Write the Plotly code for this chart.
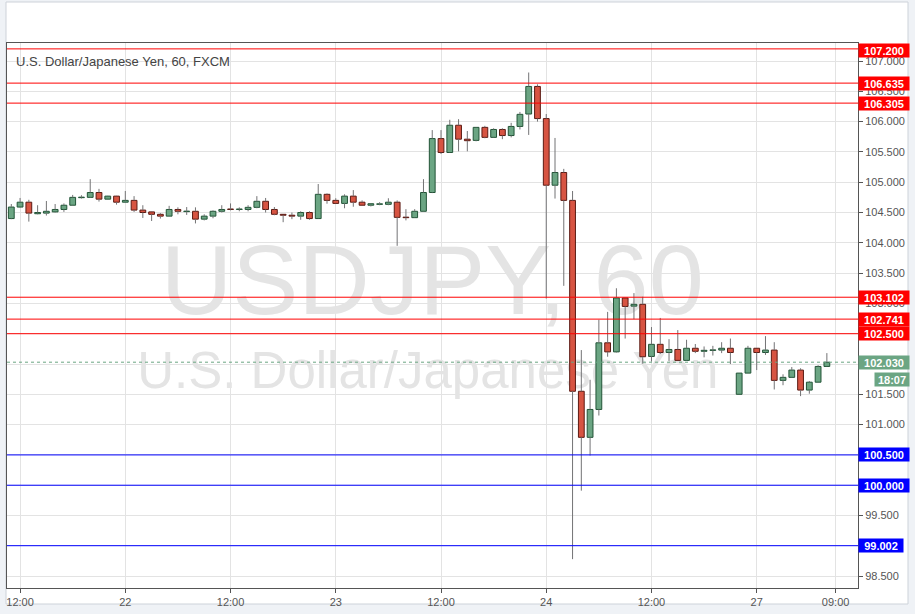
import plotly.graph_objects as go

# ---- data (hourly candles) ----
opens = [104.40, 104.59, 104.67, 104.48, 104.49, 104.51, 104.55, 104.62, 104.745, 104.75,
         104.83, 104.72, 104.77, 104.67, 104.70, 104.54, 104.51, 104.47, 104.44, 104.55,
         104.515, 104.52, 104.39, 104.44, 104.52, 104.555, 104.55, 104.55, 104.585, 104.685,
         104.55, 104.47, 104.455, 104.44, 104.50, 104.40, 104.80, 104.70, 104.65, 104.77,
         104.67, 104.62, 104.635, 104.635, 104.67, 104.42, 104.415, 104.52, 104.83, 105.72,
         105.49, 105.94, 105.71, 105.69, 105.905, 105.74, 105.87, 105.77, 105.92, 106.125,
         106.58, 106.05, 104.95, 105.16, 104.70, 101.55, 100.79, 101.25, 102.35, 102.20,
         103.09, 102.955, 102.985, 102.125, 102.325, 102.19, 102.24, 102.06, 102.26, 102.21,
         102.225, 102.23, 102.26, 101.50, 101.85, 102.26, 102.19, 102.23, 101.73, 101.78,
         101.90, 101.57, 101.70, 101.96]
highs = [104.64, 104.74, 104.71, 104.62, 104.69, 104.64, 104.65, 104.79, 104.785, 105.05,
         104.89, 104.775, 104.775, 104.855, 104.77, 104.62, 104.52, 104.49, 104.61, 104.585,
         104.59, 104.585, 104.47, 104.535, 104.62, 104.65, 104.585, 104.62, 104.77, 104.74,
         104.59, 104.47, 104.50, 104.52, 104.52, 104.97, 104.815, 104.735, 104.80, 104.87,
         104.70, 104.65, 104.67, 104.735, 104.70, 104.555, 104.555, 105.05, 105.86, 105.86,
         106.03, 106.04, 105.845, 105.91, 105.93, 105.89, 105.89, 105.98, 106.16, 106.81,
         106.615, 106.125, 105.73, 105.22, 104.855, 102.23, 101.74, 102.73, 102.86, 103.25,
         103.09, 103.17, 103.11, 102.61, 102.76, 102.41, 102.56, 102.40, 102.33, 102.29,
         102.30, 102.36, 102.42, 101.85, 102.30, 102.26, 102.46, 102.36, 101.83, 101.95,
         101.93, 101.72, 101.98, 102.18]
lows = [104.39, 104.58, 104.35, 104.47, 104.45, 104.50, 104.51, 104.61, 104.73, 104.74,
        104.68, 104.715, 104.63, 104.665, 104.51, 104.41, 104.36, 104.40, 104.435, 104.47,
        104.46, 104.32, 104.37, 104.405, 104.50, 104.535, 104.52, 104.52, 104.57, 104.50,
        104.455, 104.34, 104.39, 104.38, 104.38, 104.395, 104.645, 104.645, 104.57, 104.595,
        104.62, 104.60, 104.62, 104.62, 103.95, 104.37, 104.41, 104.515, 104.82, 105.465,
        105.485, 105.51, 105.51, 105.675, 105.725, 105.735, 105.71, 105.74, 105.87, 105.78,
        106.00, 103.08, 104.73, 103.29, 98.78, 99.91, 100.49, 101.15, 102.12, 102.19,
        102.42, 102.74, 102.005, 102.04, 102.165, 102.05, 102.06, 102.055, 102.18, 102.11,
        102.14, 102.18, 102.00, 101.50, 101.85, 101.90, 102.15, 101.58, 101.65, 101.775,
        101.47, 101.51, 101.695, 101.955]
closes = [104.59, 104.67, 104.49, 104.50, 104.52, 104.55, 104.62, 104.75, 104.75, 104.83,
          104.72, 104.77, 104.67, 104.70, 104.54, 104.50, 104.47, 104.44, 104.55, 104.52,
          104.52, 104.39, 104.44, 104.52, 104.55, 104.55, 104.555, 104.585, 104.685, 104.55,
          104.47, 104.455, 104.44, 104.50, 104.40, 104.80, 104.70, 104.65, 104.77, 104.67,
          104.62, 104.645, 104.64, 104.67, 104.42, 104.415, 104.52, 104.83, 105.72, 105.49,
          105.94, 105.71, 105.685, 105.905, 105.74, 105.87, 105.77, 105.92, 106.12, 106.58,
          106.05, 104.95, 105.16, 104.70, 101.55, 100.79, 101.25, 102.35, 102.20, 103.09,
          102.95, 102.985, 102.12, 102.325, 102.19, 102.24, 102.06, 102.26, 102.21, 102.226,
          102.23, 102.26, 102.19, 101.85, 102.26, 102.19, 102.23, 101.73, 101.78, 101.90,
          101.57, 101.70, 101.96, 102.03]

tick_idx = [1, 13, 25, 37, 49, 61, 73, 85, 94]
tick_txt = ["12:00", "22", "12:00", "23", "12:00", "24", "12:00", "27", "09:00"]

red_levels = [107.200, 106.635, 106.305, 103.102, 102.741, 102.500]
blue_levels = [100.500, 100.000, 99.002]
last_price = 102.030
countdown = "18:07"

title_text = "U.S. Dollar/Japanese Yen, 60, FXCM"
wm_big = "USDJPY, 60"
wm_small = "U.S. Dollar/Japanese Yen"

# ---- styling ----
W, H = 915, 614
ML, MR, MT, MB = 7, 57, 43, 26
PW, PH = W - ML - MR, H - MT - MB
XR = [-0.49, 96.55]
YR = [98.304, 107.297]

def px(x):
    return (x - ML) / PW

def py(y):
    return (H - MB - y) / PH

UP_FILL, UP_LINE = "#6ba583", "#225437"
DN_FILL, DN_LINE = "#d75442", "#5b1a13"
WICK = "#737375"
FONT = "Liberation Sans"
TXT = "#555555"
GRID = "#e3e3e3"

n = len(opens)
idx = list(range(n))

# wicks (split above/below the body so they never cross it)
wx, wy = [], []
for i in idx:
    top = max(opens[i], closes[i])
    bot = min(opens[i], closes[i])
    if highs[i] > top:
        wx += [i, i, None]
        wy += [top, highs[i], None]
    if lows[i] < bot:
        wx += [i, i, None]
        wy += [lows[i], bot, None]

base = [min(o, c) for o, c in zip(opens, closes)]
size = [max(abs(c - o), 0.008) for o, c in zip(opens, closes)]
up = [c >= o for o, c in zip(opens, closes)]
fill = [UP_FILL if u else DN_FILL for u in up]
edge = [UP_LINE if u else DN_LINE for u in up]

fig = go.Figure()

# watermark on the base axes (drawn beneath the candles on the overlay axes)
fig.add_trace(go.Scatter(x=[48.0], y=[103.24], mode="text", text=[wm_big],
                         textposition="middle center",
                         textfont=dict(family=FONT, size=99, color="#e4e4e4"),
                         hoverinfo="skip", showlegend=False))
fig.add_trace(go.Scatter(x=[47.5], y=[101.82], mode="text", text=[wm_small],
                         textposition="middle center",
                         textfont=dict(family=FONT, size=51, color="#e4e4e4"),
                         hoverinfo="skip", showlegend=False))

fig.add_trace(go.Scatter(x=wx, y=wy, mode="lines", line=dict(color=WICK, width=1),
                         xaxis="x2", yaxis="y2", hoverinfo="skip", showlegend=False))
fig.add_trace(go.Bar(x=idx, y=size, base=base, width=0.66,
                     marker=dict(color=fill, line=dict(color=edge, width=1)),
                     xaxis="x2", yaxis="y2", showlegend=False))

shapes = []
# page background panel
shapes.append(dict(type="rect", xref="paper", yref="paper", layer="below",
                   x0=px(6), x1=px(908), y0=py(604), y1=py(2),
                   fillcolor="white", line=dict(color="#cdd2d9", width=1)))
for v in red_levels:
    shapes.append(dict(type="line", xref="paper", yref="y", x0=0, x1=1, y0=v, y1=v,
                       line=dict(color="#ff0000", width=1), layer="above"))
for v in blue_levels:
    shapes.append(dict(type="line", xref="paper", yref="y", x0=0, x1=1, y0=v, y1=v,
                       line=dict(color="#0000ff", width=1), layer="above"))
shapes.append(dict(type="line", xref="paper", yref="y", x0=0, x1=1,
                   y0=last_price, y1=last_price,
                   line=dict(color=UP_FILL, width=1, dash="dot"), layer="above"))

annotations = [dict(text=title_text, xref="paper", yref="paper", x=px(14), y=py(61),
                    xanchor="left", yanchor="middle", showarrow=False,
                    font=dict(family=FONT, size=13, color="#444444"))]

def price_box(v, color, width=48, yshift=0):
    return dict(text=f"{v:.3f}", xref="paper", yref="y", x=1, y=v, xanchor="left",
                yanchor="middle", showarrow=False, bgcolor=color, width=width,
                height=11, borderpad=1, align="center", yshift=yshift,
                font=dict(family=FONT, size=11, color="white", weight="bold"))

for v in red_levels:
    annotations.append(price_box(v, "#ff0000", yshift=-2 if v == max(red_levels) else 0))
for v in blue_levels:
    annotations.append(price_box(v, "#0000ff", width=48 if v != min(blue_levels) else 42))
annotations.append(price_box(last_price, UP_FILL))
annotations.append(dict(text=countdown, xref="paper", yref="y", x=px(874), y=last_price,
                        xanchor="left", yanchor="middle", showarrow=False, bgcolor=UP_FILL,
                        width=32, height=11, borderpad=1, yshift=-17,
                        font=dict(family=FONT, size=11, color="white", weight="bold")))

fig.update_layout(
    width=W, height=H, margin=dict(l=ML, r=MR, t=MT, b=MB, pad=0),
    paper_bgcolor="#eff2f6", plot_bgcolor="white",
    font=dict(family=FONT, size=11, color=TXT),
    showlegend=False, barmode="overlay",
    xaxis=dict(range=XR, tickmode="array", tickvals=tick_idx, ticktext=tick_txt,
               showgrid=True, gridcolor=GRID, gridwidth=1, zeroline=False,
               showline=True, linecolor="#555555", linewidth=1, mirror=True,
               ticks="outside", ticklen=4, tickcolor="#555555",
               tickfont=dict(family=FONT, size=11, color=TXT), fixedrange=True),
    yaxis=dict(range=YR, side="right", tick0=0, dtick=0.5, tickformat=".3f",
               showgrid=True, gridcolor=GRID, gridwidth=1, zeroline=False,
               showline=True, linecolor="#555555", linewidth=1, mirror=True,
               ticks="outside", ticklen=4, tickcolor="#555555",
               tickfont=dict(family=FONT, size=11, color=TXT), fixedrange=True),
    xaxis2=dict(range=XR, overlaying="x", anchor="y2", visible=False, fixedrange=True),
    yaxis2=dict(range=YR, overlaying="y", anchor="x2", visible=False, fixedrange=True),
    shapes=shapes, annotations=annotations,
)

fig.write_html("out.html", config={"displayModeBar": False},
               post_script="document.body.style.margin='0';document.body.style.overflow='hidden';")
